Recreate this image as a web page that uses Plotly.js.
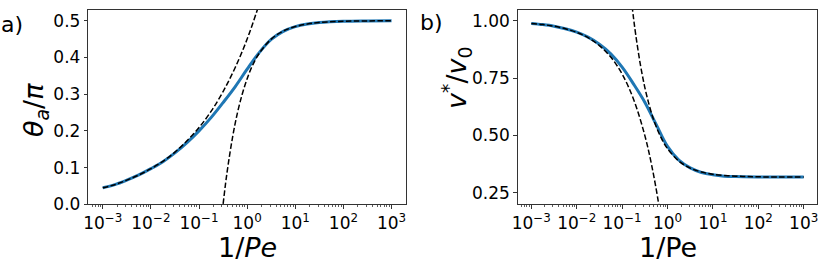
<!DOCTYPE html>
<html>
<head>
<meta charset="utf-8">
<script src="https://cdn.plot.ly/plotly-3.0.1.min.js"></script>
<style>
html,body{margin:0;padding:0;background:#fff;}
#chart{width:830px;height:274px;}
</style>
</head>
<body>
<div id="chart"></div>
<script>
// ---- data ----
// common 1/Pe grid (log-spaced)
var invPe = [0.001, 0.001778, 0.003162, 0.005623, 0.01, 0.01778, 0.03162, 0.05623,
             0.1, 0.1778, 0.3162, 0.5623, 1, 1.778, 3.162, 5.623, 10, 17.78, 31.62,
             100, 316.2, 1000];

// panel a: theta_a / pi
var thetaNum = [0.045, 0.0535, 0.0658, 0.080, 0.097, 0.116, 0.140, 0.168,
                0.200, 0.236, 0.277, 0.320, 0.368, 0.413, 0.449, 0.471, 0.484,
                0.491, 0.495, 0.4985, 0.4995, 0.5];
var thetaLowX = [0.001, 0.001778, 0.003162, 0.005623, 0.01, 0.01778, 0.03162,
                 0.05623, 0.1, 0.1778, 0.3162, 0.5623, 1, 1.778];
var thetaLow  = [0.045, 0.0535, 0.0659, 0.080, 0.097, 0.117, 0.142, 0.173,
                 0.209, 0.253, 0.307, 0.372, 0.450, 0.545];
var thetaHighX = [0.302, 0.3162, 0.3548, 0.3981, 0.5012, 0.631, 0.7943, 1, 1.259,
                  1.778, 3.162, 5.623, 10, 17.78, 31.62, 100, 316.2, 1000];
var thetaHigh  = [-0.02, 0.0, 0.055, 0.103, 0.185, 0.250, 0.301, 0.342, 0.375,
                  0.411, 0.450, 0.472, 0.484, 0.491, 0.495, 0.4984, 0.4995, 0.4998];

// panel b: v* / v0
var velNum = [0.989, 0.984, 0.977, 0.966, 0.951, 0.929, 0.898, 0.856,
              0.798, 0.725, 0.645, 0.548, 0.452, 0.392, 0.358, 0.338, 0.328,
              0.322, 0.320, 0.3185, 0.318, 0.318];
var velLowX = [0.001, 0.001778, 0.003162, 0.005623, 0.01, 0.01778, 0.03162,
               0.05623, 0.1, 0.1778, 0.3162, 0.4467, 0.631, 0.7943];
var velLow  = [0.989, 0.984, 0.977, 0.966, 0.950, 0.927, 0.892, 0.842,
               0.768, 0.659, 0.500, 0.371, 0.208, 0.076];
var velHighX = [0.1585, 0.1778, 0.1995, 0.2512, 0.3162, 0.3981, 0.5012, 0.631,
                0.7943, 1, 1.778, 3.162, 5.623, 10, 31.62, 100, 1000];
var velHigh  = [1.100, 1.015, 0.940, 0.812, 0.710, 0.630, 0.565, 0.515,
                0.474, 0.442, 0.388, 0.357, 0.340, 0.330, 0.322, 0.319, 0.318];

// tick labels
var xTickVals = [0.001, 0.01, 0.1, 1, 10, 100, 1000];
var xTickText = ['10<sup>\u22123</sup>', '10<sup>\u22122</sup>', '10<sup>\u22121</sup>',
                 '10<sup>0</sup>', '10<sup>1</sup>', '10<sup>2</sup>', '10<sup>3</sup>'];
var yTickValsA = [0, 0.1, 0.2, 0.3, 0.4, 0.5];
var yTickTextA = ['0.0', '0.1', '0.2', '0.3', '0.4', '0.5'];
var yTickValsB = [0.25, 0.5, 0.75, 1.0];
var yTickTextB = ['0.25', '0.50', '0.75', '1.00'];

// minor tick positions for log axes
var minorVals = [];
for (var e = -4; e <= 3; e++) {
  for (var d = 2; d <= 9; d++) minorVals.push(d * Math.pow(10, e));
}

// ---- styles ----
var BLUE = '#1f77b4';
var FRAME = '#333333';
var FONT = 'DejaVu Sans, sans-serif';

function blue(x, y, xa, ya) {
  return {x: x, y: y, xaxis: xa, yaxis: ya, type: 'scatter', mode: 'lines',
          line: {color: BLUE, width: 3, shape: 'spline'}, hoverinfo: 'skip'};
}
function dashed(x, y, xa, ya) {
  return {x: x, y: y, xaxis: xa, yaxis: ya, type: 'scatter', mode: 'lines',
          line: {color: '#000', width: 1.5, dash: '5.5px,2.4px', shape: 'spline'},
          hoverinfo: 'skip'};
}

var data = [
  blue(invPe, thetaNum, 'x', 'y'),
  dashed(thetaLowX, thetaLow, 'x', 'y'),
  dashed(thetaHighX, thetaHigh, 'x', 'y'),
  blue(invPe, velNum, 'x2', 'y2'),
  dashed(velLowX, velLow, 'x2', 'y2'),
  dashed(velHighX, velHigh, 'x2', 'y2')
];

function xAxis(domain, anchor) {
  return {
    type: 'log', range: [-3.3, 3.3], domain: domain, anchor: anchor,
    tickmode: 'array', tickvals: xTickVals, ticktext: xTickText,
    ticks: 'outside', ticklen: 3.5, tickwidth: 1, tickcolor: FRAME,
    minor: {tickmode: 'array', tickvals: minorVals, ticks: 'outside', ticklen: 2,
            tickwidth: 0.8, tickcolor: FRAME, showgrid: false},
    showline: true, linecolor: FRAME, linewidth: 1, mirror: true,
    showgrid: false, zeroline: false,
    tickfont: {family: FONT, size: 17, color: '#000'},
    automargin: false
  };
}
function yAxis(domain, anchor, range, vals, text) {
  return {
    range: range, domain: domain, anchor: anchor,
    tickmode: 'array', tickvals: vals, ticktext: text,
    ticks: 'outside', ticklen: 3.5, tickwidth: 1, tickcolor: FRAME,
    showline: true, linecolor: FRAME, linewidth: 1, mirror: true,
    showgrid: false, zeroline: false,
    tickfont: {family: FONT, size: 17, color: '#000'},
    automargin: false
  };
}

var W = 830, H = 274;
var yDom = [1 - 204.3 / H, 1 - 9.7 / H];

var layout = {
  width: W, height: H,
  margin: {l: 0, r: 0, t: 0, b: 0, pad: 0},
  paper_bgcolor: '#fff', plot_bgcolor: '#fff',
  showlegend: false,
  font: {family: FONT, color: '#000'},
  xaxis: xAxis([88.3 / W, 406 / W], 'y'),
  yaxis: yAxis(yDom, 'x', [0, 0.53], yTickValsA, yTickTextA),
  xaxis2: xAxis([517.7 / W, 817.3 / W], 'y2'),
  yaxis2: yAxis(yDom, 'x2', [0.199, 1.049], yTickValsB, yTickTextB),
  annotations: [
    {text: 'a)', xref: 'paper', yref: 'paper', x: -1 / W, y: 1 - 24 / H,
     xanchor: 'left', yanchor: 'middle', showarrow: false,
     font: {family: FONT, size: 22, color: '#000'}},
    {text: 'b)', xref: 'paper', yref: 'paper', x: 418 / W, y: 1 - 23 / H,
     xanchor: 'left', yanchor: 'middle', showarrow: false,
     font: {family: FONT, size: 22, color: '#000'}},
    {text: '1/<i>Pe</i>', xref: 'paper', yref: 'paper', x: 247 / W, y: 1 - 247 / H,
     xanchor: 'center', yanchor: 'middle', showarrow: false,
     font: {family: FONT, size: 27, color: '#000'}},
    {text: '1/Pe', xref: 'paper', yref: 'paper', x: 668 / W, y: 1 - 247 / H,
     xanchor: 'center', yanchor: 'middle', showarrow: false,
     font: {family: FONT, size: 27, color: '#000'}},
    {text: '<i>θ</i><sub><i>a</i></sub>/<i>π</i>', xref: 'paper', yref: 'paper',
     x: 35 / W, y: 1 - 110 / H, xanchor: 'center', yanchor: 'middle', textangle: -90,
     showarrow: false, font: {family: FONT, size: 27, color: '#000'}},
    {text: '<i>v</i><sup>*</sup>/<i>v</i><sub>0</sub>', xref: 'paper', yref: 'paper',
     x: 456 / W, y: 1 - 78 / H, xanchor: 'center', yanchor: 'middle', textangle: -90,
     showarrow: false, font: {family: FONT, size: 27, color: '#000'}}
  ]
};

Plotly.newPlot('chart', data, layout, {staticPlot: true, displayModeBar: false});
</script>
</body>
</html>
